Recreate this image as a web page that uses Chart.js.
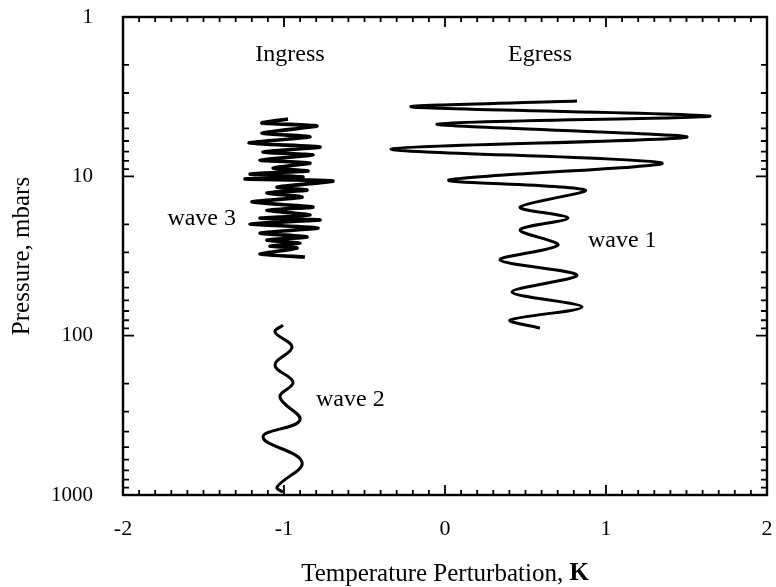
<!DOCTYPE html>
<html>
<head>
<meta charset="utf-8">
<script src="https://cdn.jsdelivr.net/npm/chart.js@4.4.1/dist/chart.umd.min.js"></script>
<style>
  html, body { margin: 0; padding: 0; background: #fff; }
  #wrap { width: 776px; height: 587px; }
</style>
</head>
<body>
<div id="wrap"><canvas id="c" width="776" height="587"></canvas></div>
<script>
// Axis tick labels
const xTicks = [-2, -1, 0, 1, 2];
const pTicks = [1, 10, 100, 1000];

// Egress profile (wave 1): temperature perturbation (K) vs pressure (mbar)
const wave1T = [0.82, -0.205, 1.646, -0.05, 1.503, -0.335, 1.348, 0.025, 0.87, 0.466, 0.764, 0.466, 0.702, 0.342, 0.82, 0.416, 0.851, 0.404, 0.59];
const wave1P = [3.37, 3.67, 4.18, 4.70, 5.67, 6.74, 8.26, 10.55, 12.19, 15.6, 18.28, 21.7, 27.0, 33.5, 41.7, 53.2, 66.1, 79.8, 89.6];

// Ingress profile, upper part (wave 3)
const wave3T = [-0.975, -1.137, -0.795, -1.137, -0.839, -1.217, -0.776, -1.130, -0.820, -1.149, -0.839, -1.068, -0.851, -1.211, -0.882, -1.242, -0.696, -1.043, -0.857, -1.106, -0.888, -1.199, -0.820, -1.106, -0.839, -1.149, -0.776, -1.211, -0.789, -1.149, -0.857, -1.106, -0.901, -1.087, -0.919, -1.149, -0.870];
const wave3P = [4.37, 4.63, 4.83, 5.35, 5.66, 6.18, 6.55, 7.03, 7.35, 7.90, 8.26, 8.87, 9.27, 9.68, 10.1, 10.4, 10.7, 11.7, 12.2, 12.7, 13.5, 14.5, 15.6, 16.3, 17.5, 18.3, 18.8, 19.9, 21.1, 22.7, 24.0, 25.1, 26.2, 27.4, 28.2, 30.8, 32.1];

// Ingress profile, lower part (wave 2)
const wave2T = [-1.006, -1.056, -0.950, -1.056, -0.944, -1.025, -0.901, -1.130, -0.888, -1.043, -1.006];
const wave2P = [85.8, 94.9, 118, 153, 196, 243, 339, 433, 621, 892, 959];

// Text annotations placed in data coordinates
const noteText  = ['Ingress', 'Egress', 'wave 3', 'wave 1', 'wave 2'];
const noteT     = [-0.963, 0.59, -1.298, 0.888, -0.801];
const noteP     = [1.73, 1.73, 18.5, 25.5, 254];
const noteAlign = ['center', 'center', 'right', 'left', 'left'];

const SERIF = '"Liberation Serif", "DejaVu Serif", serif';

function pairs(ts, ps) {
  return ts.map((t, i) => ({ x: t, y: ps[i] }));
}

function profile(ts, ps, width, tension) {
  return {
    data: pairs(ts, ps),
    showLine: true,
    borderColor: '#000',
    borderWidth: width,
    pointRadius: 0,
    tension: tension,
    fill: false
  };
}

// Frame, inward ticks on all four sides, axis titles and annotations
const framePlugin = {
  id: 'frame',
  afterDraw(chart) {
    const ctx = chart.ctx;
    const a = chart.chartArea;
    const xs = chart.scales.x, ys = chart.scales.y;
    ctx.save();
    ctx.strokeStyle = '#000';
    ctx.lineWidth = 2.4;
    ctx.strokeRect(a.left, a.top, a.right - a.left, a.bottom - a.top);

    ctx.lineWidth = 1.8;
    ctx.beginPath();
    for (let k = -20; k <= 20; k++) {
      const v = k / 10;
      const px = xs.getPixelForValue(v);
      const len = (k % 10 === 0) ? 10 : 5;
      ctx.moveTo(px, a.bottom); ctx.lineTo(px, a.bottom - len);
      ctx.moveTo(px, a.top);    ctx.lineTo(px, a.top + len);
    }
    for (let d = 1; d <= 1000; d *= 10) {
      for (let m = 1; m <= 9; m++) {
        const v = d * m;
        if (v > 1000) break;
        const py = ys.getPixelForValue(v);
        const len = (m === 1) ? 11 : 6;
        ctx.moveTo(a.left, py);  ctx.lineTo(a.left + len, py);
        ctx.moveTo(a.right, py); ctx.lineTo(a.right - len, py);
      }
    }
    ctx.stroke();

    ctx.fillStyle = '#000';
    ctx.textBaseline = 'middle';

    // x-axis title with bold unit
    const t1 = 'Temperature Perturbation, ';
    ctx.font = '25px ' + SERIF;
    const w1 = ctx.measureText(t1).width;
    ctx.font = 'bold 25px ' + SERIF;
    const w2 = ctx.measureText('K').width;
    const cx = (a.left + a.right) / 2;
    const ty = 574;
    ctx.textAlign = 'left';
    ctx.font = '25px ' + SERIF;
    ctx.fillText(t1, cx - (w1 + w2) / 2, ty);
    ctx.font = 'bold 25px ' + SERIF;
    ctx.fillText('K', cx - (w1 + w2) / 2 + w1, ty);

    // y-axis title
    ctx.save();
    ctx.translate(22, (a.top + a.bottom) / 2);
    ctx.rotate(-Math.PI / 2);
    ctx.textAlign = 'center';
    ctx.font = '25px ' + SERIF;
    ctx.fillText('Pressure, mbars', 0, 0);
    ctx.restore();

    // annotations
    ctx.font = '24px ' + SERIF;
    noteText.forEach((txt, i) => {
      ctx.textAlign = noteAlign[i];
      ctx.fillText(txt, xs.getPixelForValue(noteT[i]), ys.getPixelForValue(noteP[i]));
    });
    ctx.restore();
  }
};

new Chart(document.getElementById('c'), {
  type: 'scatter',
  data: {
    datasets: [
      profile(wave1T, wave1P, 3.0, 0.3),
      profile(wave3T, wave3P, 3.6, 0.2),
      profile(wave2T, wave2P, 3.0, 0.4)
    ]
  },
  options: {
    responsive: false,
    animation: false,
    events: [],
    layout: { padding: { top: 17, right: 9, left: 0, bottom: 0 } },
    plugins: { legend: { display: false }, tooltip: { enabled: false } },
    scales: {
      x: {
        type: 'linear',
        min: -2, max: 2,
        afterBuildTicks: s => { s.ticks = xTicks.map(v => ({ value: v })); },
        afterFit: s => { s.height = 92; s.paddingLeft = 0; s.paddingRight = 0; },
        grid: { display: false, drawTicks: false },
        border: { display: false },
        ticks: { color: '#000', font: { family: SERIF, size: 22 }, padding: 21, maxRotation: 0,
                 callback: v => String(v) }
      },
      y: {
        type: 'logarithmic',
        min: 1, max: 1000,
        reverse: true,
        afterBuildTicks: s => { s.ticks = pTicks.map(v => ({ value: v })); },
        afterFit: s => { s.width = 123; s.paddingTop = 0; s.paddingBottom = 0; },
        grid: { display: false, drawTicks: false },
        border: { display: false },
        ticks: { color: '#000', font: { family: SERIF, size: 21 }, padding: 30,
                 callback: v => String(v) }
      }
    }
  },
  plugins: [framePlugin]
});
</script>
</body>
</html>
